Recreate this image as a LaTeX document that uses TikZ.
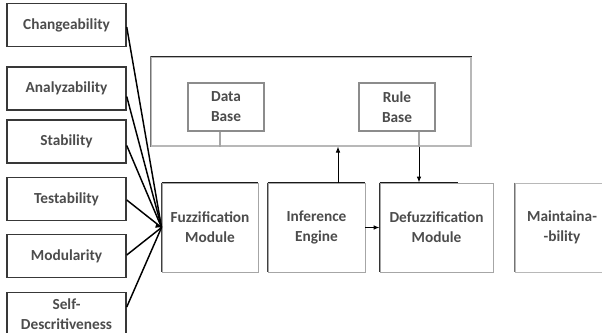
\documentclass[tikz,border=0pt]{standalone}
\usepackage{fontspec}
\setmainfont{Carlito}
\usetikzlibrary{arrows.meta,calc}
\tikzset{
  lbl/.style={font=\fontsize{11.5}{15}\selectfont\bfseries, text=black!70, align=center, inner sep=0pt},
  leftbox/.style={lbl, draw=black!78, line width=1.1pt, minimum width=89.25pt, minimum height=32.5pt},
  dbbox/.style={lbl, draw=black!45, line width=1.1pt, minimum width=57pt, minimum height=36pt},
  modbox/.style={lbl, draw=black!35, line width=0.7pt, minimum height=66.75pt},
  link/.style={black, line width=1.1pt},
  arr/.style={black, line width=0.75pt, -{Latex[length=4.5pt,width=3.5pt]}},
  gline/.style={black!35, line width=1pt}
}
\begin{document}
\begin{tikzpicture}[x=0.75pt,y=-0.75pt]
\useasboundingbox (0,0) rectangle (602,332);
\fill[white] (0,0) rectangle (602,332);
% left quality attribute boxes
\node[leftbox] (chg) at (66.5,25) {Changeability};
\node[leftbox] (ana) at (66.5,88.5) {Analyzability};
\node[leftbox] (sta) at (66.5,141.5) {Stability};
\node[leftbox] (tes) at (66.5,199) {Testability};
\node[leftbox] (mod) at (66.5,256) {Modularity};
\node[leftbox] (sel) at (66.5,314) {Self-\\Descritiveness};
% big top box
\node[draw=black!28, line width=0.8pt, minimum width=240pt, minimum height=66.75pt, inner sep=0pt] (kb) at (311,101.5) {};
\draw[black!85, line width=1.2pt] (kb.north west) -- (kb.north east);
\draw[black!55, line width=0.9pt] (kb.north west) -- (kb.south west);
% data base & rule base
\node[dbbox] (db) at (226,107) {Data\\Base};
\node[dbbox] (rb) at (397,107) {Rule\\Base};
% modules
\node[modbox, minimum width=72pt] (fuz) at (210,227.5) {Fuzzification\\Module};
\node[modbox, minimum width=72.75pt] (inf) at (316.5,227.5) {Inference\\Engine};
\node[modbox, minimum width=84.75pt] (dfz) at (436.5,227.5) {Defuzzification\\Module};
\node[modbox, minimum width=70.5pt, draw=black!28] (mnt) at (562,227.5) {Maintaina-\\-bility};
% darker top/left edges of modules
\draw[black!90, line width=1.1pt] (fuz.north west) -- (fuz.north east);
\draw[black!75, line width=0.9pt] (fuz.north west) -- (fuz.south west);
\draw[black!90, line width=1.1pt] (inf.north west) -- (inf.north east);
\draw[black!75, line width=0.9pt] (inf.north west) -- (inf.south west);
\coordinate (dfzend) at (458,0);
\draw[black!90, line width=1.1pt] (dfz.north west) -- (dfzend |- dfz.north);
\draw[black!80, line width=1.1pt] (dfz.north west) -- (dfz.south west);
\draw[black!55, line width=0.9pt] (mnt.north west) -- (mnt.south west);
% connectors from attributes to fuzzification
\draw[link] ($(chg.east)+(0,2)$) -- (fuz.west);
\draw[link] ($(ana.east)+(0,8)$) -- (fuz.west);
\draw[link] ($(sta.east)+(0,4)$) -- (fuz.west);
\draw[link] ($(tes.east)+(0,1)$) -- (fuz.west);
\draw[link] ($(mod.east)+(0,-1)$) -- (fuz.west);
\draw[link] ($(sel.east)+(0,-7)$) -- (fuz.west);
\draw[arr] ($(fuz.west)+(-3,-1)$) -- (fuz.west);
% knowledge base links
\coordinate (dbx) at (220,0);
\coordinate (rbx) at (419,0);
\coordinate (upx) at (338,0);
\draw[gline] (dbx |- db.south) -- (dbx |- kb.south);
\draw[gline] (rbx |- rb.south) -- (rbx |- kb.south);
\draw[arr] (rbx |- kb.south) -- (rbx |- dfz.north);
\draw[arr] (upx |- inf.north) -- (upx |- kb.south);
\draw[arr] (inf.east) -- (dfz.west);
\end{tikzpicture}
\end{document}
